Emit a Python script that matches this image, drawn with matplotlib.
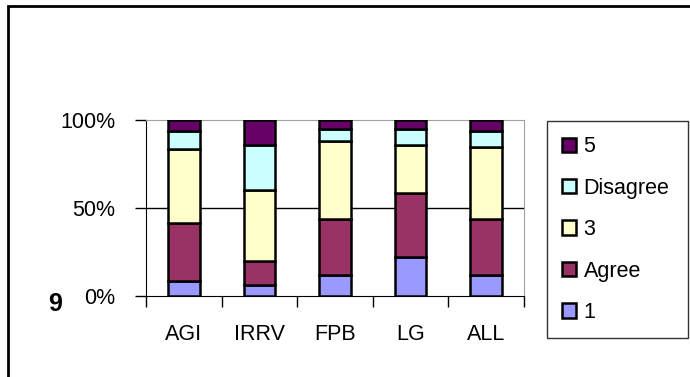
import matplotlib
matplotlib.use("Agg")
import matplotlib.pyplot as plt
from matplotlib.patches import Rectangle
import numpy as np

plt.rcParams['font.family'] = ['Liberation Sans', 'DejaVu Sans']

groups = ["AGI", "IRRV", "FPB", "LG", "ALL"]
series = ["1", "Agree", "3", "Disagree", "5"]
colors = ["#9999FF", "#993366", "#FFFFCC", "#CCFFFF", "#660066"]

# percent share of each answer, per group
s1       = [8.5, 6.3, 12.1, 22.3, 12.1]
agree    = [33.2, 13.7, 31.9, 36.4, 31.9]
s3       = [42.0, 40.0, 44.3, 27.3, 40.7]
disagree = [10.0, 26.0, 6.4, 8.7, 9.0]
s5       = [6.3, 14.0, 5.3, 5.3, 6.3]
values = [s1, agree, s3, disagree, s5]

fig = plt.figure(figsize=(6.9, 3.77), dpi=100)
ax = fig.add_axes([146/690, 1-296/377, 378/690, 176/377])

x = np.arange(len(groups))
bottom = np.zeros(len(groups))
bars = []
for name, vals, col in zip(series, values, colors):
    b = ax.bar(x, vals, 0.42, bottom=bottom, color=col, edgecolor="black",
               linewidth=1.8, label=name, zorder=3)
    bars.append(b)
    bottom += np.array(vals)

ax.set_xlim(-0.5, len(groups) - 0.5)
ax.set_ylim(0, 100)
ax.set_yticks([0, 50, 100])
ax.set_yticklabels(["0%", "50%", "100%"], fontsize=15.5)
ax.axhline(50, color="black", linewidth=1, zorder=1)

ax.set_xticks(np.arange(len(groups) + 1) - 0.5)
ax.set_xticklabels([])
ax.set_xticks(x, minor=True)
ax.set_xticklabels(groups, minor=True, fontsize=15.5)
ax.tick_params(axis="x", which="minor", length=0, pad=20)
ax.tick_params(axis="x", which="major", length=8, width=1, direction="out")
ax.tick_params(axis="y", length=8, width=1, direction="out", pad=14)

ax.spines["left"].set_color("black")
ax.spines["bottom"].set_color("black")
ax.spines["top"].set_color("#a0a0a0")
ax.spines["right"].set_color("#a0a0a0")

fig.text(55/690, 1-304/377, "9", fontsize=18, fontweight="bold",
         ha="center", va="center")

handles = bars[::-1]
labels = series[::-1]
leg = fig.legend(handles, labels, loc="upper left",
                 bbox_to_anchor=(547/690, 1-125/377, 141/690, 0.01),
                 mode="expand", fontsize=15.5, frameon=True, fancybox=False,
                 edgecolor="black", handlelength=0.65, handleheight=0.65,
                 handletextpad=0.35, labelspacing=0.95, borderpad=0.7,
                 borderaxespad=0)
leg.get_frame().set_linewidth(1)

fig.patches.append(Rectangle((8/690, -0.1), 1.2, 1-6/377+0.1,
                             transform=fig.transFigure, fill=False,
                             edgecolor="black", linewidth=2))

fig.savefig("out.png", dpi=100)
